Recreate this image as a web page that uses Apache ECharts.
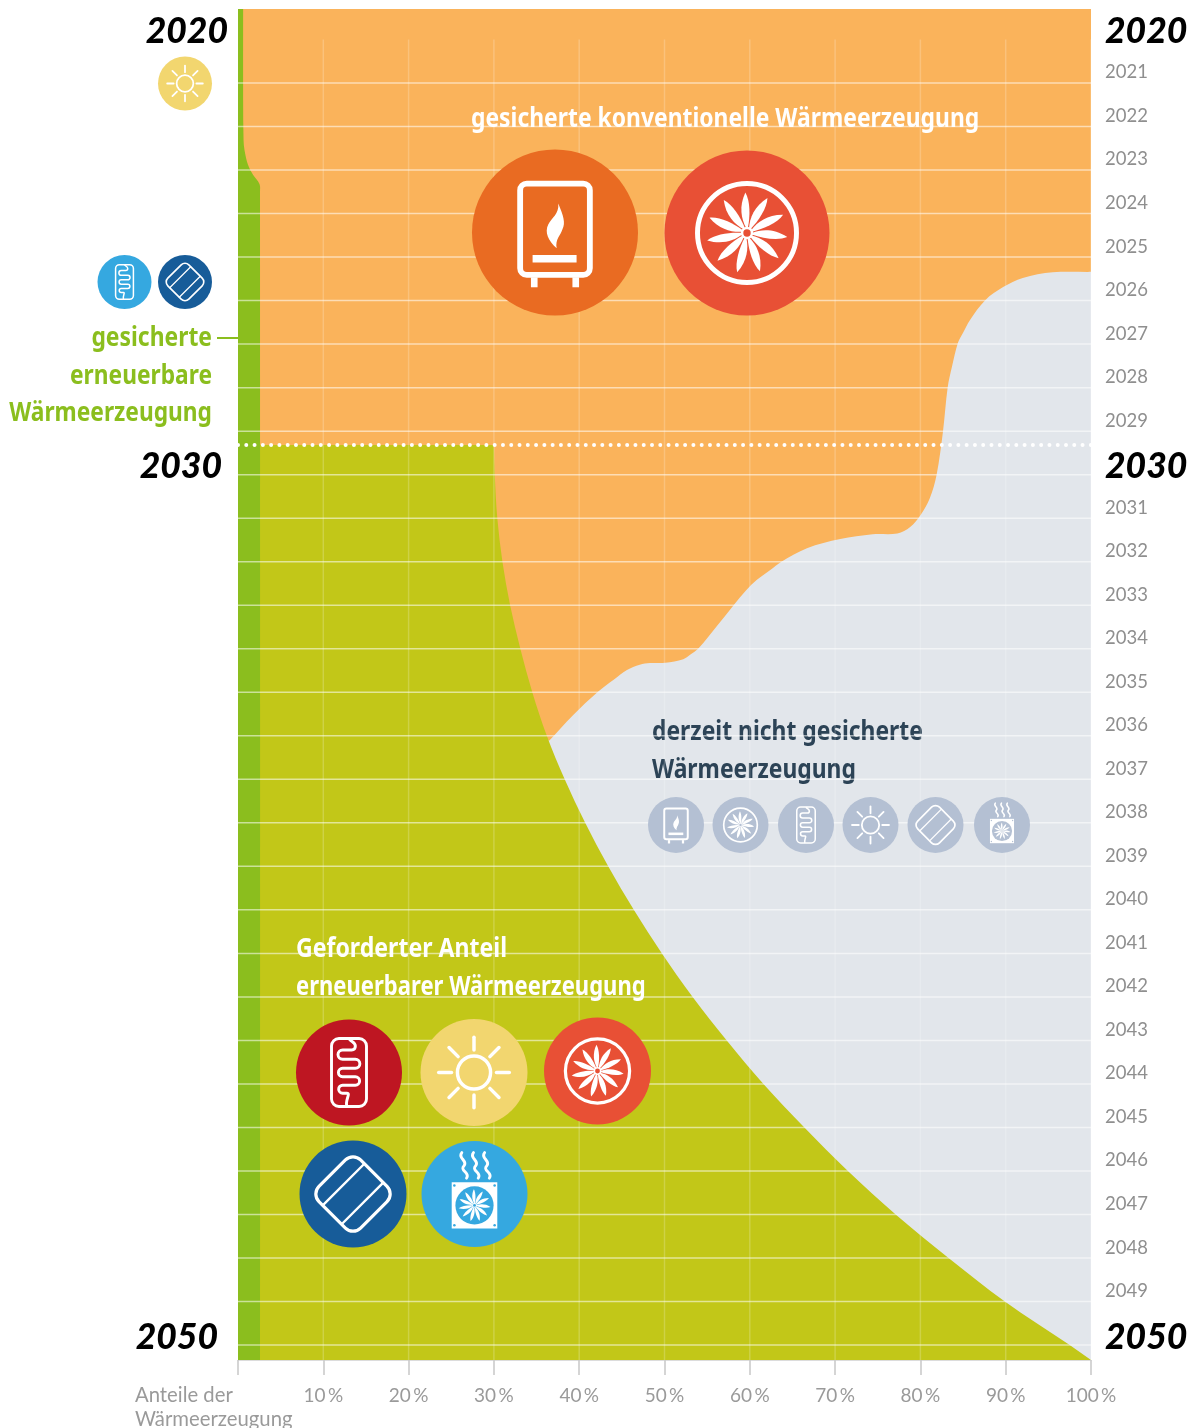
<!DOCTYPE html>
<html lang="de">
<head>
<meta charset="utf-8">
<title>Wärmeerzeugung 2020–2050</title>
<script src="https://cdn.jsdelivr.net/npm/echarts@6/dist/echarts.min.js"></script>
<style>
  html, body { margin: 0; padding: 0; background: #fff; }
  #chart { width: 1192px; height: 1428px; }
</style>
</head>
<body>
<div id="chart"></div>
<script>
// axis values
const YEAR_MIN = 2019.3
const YEAR_MAX = 2050.343
const SHARE_TICKS = [10, 20, 30, 40, 50, 60, 70, 80, 90, 100]
const GRID_YEARS = [2021, 2022, 2023, 2024, 2025, 2026, 2027, 2028, 2029, 2030, 2031, 2032, 2033, 2034, 2035, 2036, 2037, 2038, 2039, 2040, 2041, 2042, 2043, 2044, 2045, 2046, 2047, 2048, 2049, 2050]
const BIG_YEARS = [2020, 2030, 2050]
const MARKER_YEAR = 2029.32

// gesicherte erneuerbare: right edge of the dark green band
const SECURED_SHARE = [0.6, 0.6, 0.65, 0.76, 1.17, 1.76, 2.52, 2.58, 2.58]
const SECURED_YEAR = [2019.3, 2021.39, 2022.31, 2022.54, 2022.88, 2023.11, 2023.32, 2023.5, 2050.343]

// geforderter Anteil erneuerbarer: right edge of the yellow green area
const REQUIRED_SHARE = [30.0, 30.1, 30.4, 31.0, 31.9, 33.1, 34.5, 36.2, 38.3, 40.7, 43.4, 46.4, 49.7, 53.3, 57.3, 61.6, 66.4, 71.5, 77.1, 83.3, 89.9, 97.5, 100]
const REQUIRED_YEAR = [2029.32, 2030, 2031, 2032, 2033, 2034, 2035, 2036, 2037, 2038, 2039, 2040, 2041, 2042, 2043, 2044, 2045, 2046, 2047, 2048, 2049, 2050, 2050.343]

// gesicherte konventionelle: edge between orange and grey
const CONVENTIONAL_SHARE = [100, 95.5, 92.0, 89.7, 87.6, 85.8, 85.0, 84.4, 83.7, 83.2, 82.65, 81.9, 81.1, 80.0, 78.8, 77.3, 74.4, 70.6, 66.7, 63.7, 62.4, 60.8, 59.6, 58.1, 56.1, 54.0, 53.0, 52.2, 50.1, 48.3, 47.1, 45.6, 44.0, 42.2, 39.3, 36.5]
const CONVENTIONAL_YEAR = [2025.34, 2025.35, 2025.48, 2025.69, 2025.99, 2026.45, 2026.74, 2026.97, 2027.52, 2027.99, 2029, 2030, 2030.54, 2030.93, 2031.2, 2031.35, 2031.37, 2031.48, 2031.69, 2032, 2032.19, 2032.42, 2032.65, 2033, 2033.49, 2033.99, 2034.14, 2034.24, 2034.32, 2034.33, 2034.37, 2034.49, 2034.72, 2034.99, 2035.52, 2036.11]

const COLORS = {
  grey: '#e2e6eb', orange: '#fab35b', required: '#c2c718', secured: '#8bbe1e',
  sun: '#f2d66f', sky: '#35a8e0', navy: '#175c99', boiler: '#e96b22', fan: '#e85035', wine: '#be1622', pale: '#b4c0d3',
}
const Z_AREA = 1, Z_TEXT = 2, Z_LINES = 3, Z_ICON = 5
const FONT = '"Noto Sans", sans-serif'
const NUM_FONT = 'Lato, sans-serif'

// curve through the points, handles scale with each segment so uneven spacing does not overshoot
function curveThrough(pts) {
  const tangent = i => {
    const a = pts[Math.max(i - 1, 0)], b = pts[Math.min(i + 1, pts.length - 1)]
    const dx = b[0] - a[0], dy = b[1] - a[1], len = Math.hypot(dx, dy) || 1
    return [dx / len, dy / len]
  }
  let d = ''
  for (let i = 0; i < pts.length - 1; i++) {
    const p1 = pts[i], p2 = pts[i + 1], t1 = tangent(i), t2 = tangent(i + 1)
    const h = Math.hypot(p2[0] - p1[0], p2[1] - p1[1]) / 3
    d += `C${p1[0] + t1[0] * h},${p1[1] + t1[1] * h} ${p2[0] - t2[0] * h},${p2[1] - t2[1] * h} ${p2[0]},${p2[1]} `
  }
  return d
}

function areaSeries(name, color, build) {
  return {
    type: 'custom', name, z: Z_AREA, silent: true, data: [[0, YEAR_MIN]], clip: false,
    renderItem: (params, api) => ({
      type: 'path',
      shape: { pathData: build(p => api.coord(p)) },
      style: { fill: color },
    }),
  }
}

function zipped(xs, ys) { return xs.map((x, i) => [x, ys[i]]) }
function pt(p) { return `${p[0]},${p[1]} ` }

// ---------- icons, drawn in a 100 unit radius box ----------
const PETAL = 'M-1,-6 C-7,-17 -10,-32 -2,-49 C4,-39 4,-20 1,-6 Z'
const FLAME = 'M4,-35 C10,-20 13,-12 9,-4 C7,3 0,8 2,19 C-8,10 -13,0 -8,-10 C-4,-18 5,-22 4,-35 Z'
const COIL = 'M0,-64 C3,-58 12,-58 12,-50 Q12,-42.5 5,-42.5 H-12 A8.5,8.5 0 0 0 -12,-25 H12 A8.5,8.5 0 0 1 12,-8 H-12 A8,8 0 0 0 -12,8 H12 A8,8 0 0 1 12,24 H-12 A7.5,7.5 0 0 0 -12,39 H-4 C4,39 -8,52 -4,64'
const WAVE = 'M-4,-78 C-13,-68 9,-62 0,-53 C-9,-44 13,-40 5,-30'
const line = (w) => ({ fill: 'none', stroke: '#fff', lineWidth: w, lineCap: 'round' })

function fanParts(hub, ring) {
  const parts = []
  for (let i = 0; i < 11; i++) {
    parts.push({ type: 'path', rotation: i * Math.PI * 2 / 11, shape: { pathData: PETAL }, style: { fill: '#fff' } })
  }
  parts.push({ type: 'circle', shape: { cx: 0, cy: 0, r: 7.5 }, style: { fill: '#fff' } })
  parts.push({ type: 'circle', shape: { cx: 0, cy: 0, r: 4.5 }, style: { fill: hub } })
  if (ring) parts.push({ type: 'circle', shape: { cx: 0, cy: 0, r: 60 }, style: { fill: 'none', stroke: '#fff', lineWidth: 6 } })
  return parts
}

function glyph(kind, color) {
  if (kind === 'sun') {
    const rays = []
    for (let i = 0; i < 8; i++) {
      rays.push({ type: 'line', rotation: i * Math.PI / 4, shape: { x1: 0, y1: -42, x2: 0, y2: -66 }, style: line(6.5) })
    }
    return rays.concat({ type: 'circle', shape: { cx: 0, cy: 0, r: 31 }, style: line(6.5) })
  }
  if (kind === 'boiler') {
    return [
      { type: 'rect', shape: { x: -42, y: -59, width: 84, height: 110, r: 8 }, style: { fill: 'none', stroke: '#fff', lineWidth: 7 } },
      { type: 'rect', shape: { x: -29, y: 54, width: 8, height: 12 }, style: { fill: '#fff' } },
      { type: 'rect', shape: { x: 21, y: 54, width: 8, height: 12 }, style: { fill: '#fff' } },
      { type: 'rect', shape: { x: -27, y: 27, width: 53, height: 9 }, style: { fill: '#fff' } },
      { type: 'path', shape: { pathData: FLAME }, style: { fill: '#fff' } },
    ]
  }
  if (kind === 'fan') return fanParts(color, true)
  if (kind === 'coil') {
    return [
      { type: 'rect', shape: { x: -33, y: -64, width: 66, height: 128, r: 14 }, style: { fill: 'none', stroke: '#fff', lineWidth: 5.5 } },
      { type: 'path', shape: { pathData: COIL }, style: { fill: 'none', stroke: '#fff', lineWidth: 5.5 } },
    ]
  }
  if (kind === 'panel') {
    return [{
      type: 'group', rotation: Math.PI / 4,
      children: [
        { type: 'rect', shape: { x: -55, y: -55, width: 110, height: 110, r: 20 }, style: { fill: 'none', stroke: '#fff', lineWidth: 6 } },
        { type: 'line', shape: { x1: -55, y1: -25, x2: 55, y2: -25 }, style: line(4.5) },
        { type: 'line', shape: { x1: -55, y1: 25, x2: 55, y2: 25 }, style: line(4.5) },
      ],
    }]
  }
  // heat pump
  const corners = [[-38, -16], [38, -16], [-38, 59], [38, 59]]
  const waveStyle = { fill: 'none', stroke: '#fff', lineWidth: 5.5, lineCap: 'round' }
  return [
    { type: 'path', x: -20, shape: { pathData: WAVE }, style: waveStyle },
    { type: 'path', x: 2, shape: { pathData: WAVE }, style: waveStyle },
    { type: 'path', x: 23, shape: { pathData: WAVE }, style: waveStyle },
    { type: 'rect', shape: { x: -43, y: -22, width: 86, height: 87 }, style: { fill: '#fff' } },
    { type: 'circle', shape: { cx: 0, cy: 21.5, r: 36 }, style: { fill: color } },
    { type: 'group', x: 0, y: 21.5, scaleX: 0.62, scaleY: 0.62, children: fanParts(color, false) },
  ].concat(corners.map(c => ({ type: 'circle', shape: { cx: c[0], cy: c[1], r: 2.4 }, style: { fill: color } })))
}

function icon(kind, cx, cy, r, color) {
  return {
    type: 'group', x: cx, y: cy, scaleX: r / 100, scaleY: r / 100,
    children: [{ type: 'circle', shape: { cx: 0, cy: 0, r: 100 }, style: { fill: color } }].concat(glyph(kind, color)),
  }
}

const ICONS = [
  ['sun', 185, 83.5, 27, COLORS.sun],
  ['coil', 124.5, 282, 27, COLORS.sky],
  ['panel', 185, 282, 27, COLORS.navy],
  ['boiler', 555, 232.5, 83, COLORS.boiler],
  ['fan', 747, 233, 82.5, COLORS.fan],
  ['boiler', 676, 825, 28, COLORS.pale],
  ['fan', 740.5, 825, 28, COLORS.pale],
  ['coil', 806, 825, 28, COLORS.pale],
  ['sun', 870.5, 825, 28, COLORS.pale],
  ['panel', 935.5, 825, 28, COLORS.pale],
  ['pump', 1002, 825, 28, COLORS.pale],
  ['coil', 349, 1072.5, 53, COLORS.wine],
  ['sun', 474, 1072.5, 53.5, COLORS.sun],
  ['fan', 597.5, 1071, 53.5, COLORS.fan],
  ['panel', 353, 1194, 53.5, COLORS.navy],
  ['pump', 474.5, 1194, 53, COLORS.sky],
]

function label(text, x, y, fill, opts) {
  const o = opts || {}
  return {
    type: 'text', x, y, z: o.z || Z_TEXT, scaleX: o.sx || 0.88, scaleY: 1, silent: true,
    style: {
      text, fill, font: o.font || `bold 26px ${FONT}`,
      align: o.align || 'left', verticalAlign: 'middle', textAlign: o.align || 'left', textVerticalAlign: 'middle',
    },
  }
}

const axisNameFont = `20.3px ${NUM_FONT}`
const graphics = [
  label('gesicherte konventionelle Wärmeerzeugung', 471, 120, '#fff'),
  label('Geforderter Anteil', 296, 950, '#fff', { sx: 0.888 }),
  label('erneuerbarer Wärmeerzeugung', 296, 988, '#fff', { sx: 0.848 }),
  label('derzeit nicht gesicherte', 652, 733, '#2c4356'),
  label('Wärmeerzeugung', 652, 771, '#2c4356'),
  label('gesicherte', 212, 339, COLORS.secured, { align: 'right', z: 6 }),
  label('erneuerbare', 212, 377, COLORS.secured, { align: 'right', z: 6, sx: 0.875 }),
  label('Wärmeerzeugung', 212, 414, COLORS.secured, { align: 'right', z: 6, sx: 0.875 }),
  label('Anteile der', 135, 1395, '#9a9a9a', { font: axisNameFont, sx: 1 }),
  label('Wärmeerzeugung', 135, 1419, '#9a9a9a', { font: axisNameFont, sx: 1 }),
  { type: 'line', z: 6, silent: true, shape: { x1: 217, y1: 338, x2: 238, y2: 338 }, style: { stroke: COLORS.secured, lineWidth: 2 } },
]

const series = [
  areaSeries('derzeit nicht gesichert', COLORS.grey, c => {
    const a = c([0, YEAR_MIN]), b = c([100, YEAR_MAX])
    return `M${pt(a)}L${b[0]},${a[1]} L${pt(b)}L${a[0]},${b[1]} Z`
  }),
  areaSeries('gesicherte konventionelle', COLORS.orange, c => {
    const edge = zipped(CONVENTIONAL_SHARE, CONVENTIONAL_YEAR).map(c)
    const tl = c([0, YEAR_MIN]), tr = c([100, YEAR_MIN]), end = edge[edge.length - 1]
    return `M${pt(tl)}L${pt(tr)}L${pt(edge[0])}${curveThrough(edge)}L${tl[0]},${end[1]} Z`
  }),
  areaSeries('geforderter Anteil', COLORS.required, c => {
    const edge = zipped(REQUIRED_SHARE, REQUIRED_YEAR).map(c)
    const bl = c([0, YEAR_MAX]), tl = c([0, REQUIRED_YEAR[0]])
    return `M${pt(tl)}L${pt(edge[0])}${curveThrough(edge)}L${pt(bl)}Z`
  }),
  areaSeries('gesicherte erneuerbare', COLORS.secured, c => {
    const edge = zipped(SECURED_SHARE, SECURED_YEAR).map(c)
    const tl = c([0, YEAR_MIN]), bl = c([0, YEAR_MAX])
    return `M${pt(tl)}L${pt(edge[0])}${curveThrough(edge)}L${pt(bl)}Z`
  }),
  {
    type: 'custom', name: 'Jahre', z: Z_LINES, silent: true,
    data: GRID_YEARS.map(y => [0, y]),
    renderItem: (params, api) => {
      const y = api.value(1), a = api.coord([0, y]), b = api.coord([100, y])
      return { type: 'line', shape: { x1: a[0], y1: a[1], x2: b[0], y2: b[1] }, style: { stroke: 'rgba(255,255,255,0.55)', lineWidth: 1.5 } }
    },
  },
  {
    type: 'custom', name: 'Anteile', z: Z_LINES, silent: true,
    data: SHARE_TICKS.map(s => [s, 2020]),
    renderItem: (params, api) => {
      const s = api.value(0), a = api.coord([s, 2020]), b = api.coord([s, YEAR_MAX])
      return { type: 'line', shape: { x1: a[0], y1: a[1], x2: b[0], y2: b[1] }, style: { stroke: 'rgba(255,255,255,0.2)', lineWidth: 1.5 } }
    },
  },
  {
    type: 'line', name: '2030', z: Z_LINES, silent: true, symbol: 'none',
    data: [[0, MARKER_YEAR], [100, MARKER_YEAR]],
    lineStyle: { color: '#fff', width: 4, type: [0, 8.28], cap: 'round' },
  },
  {
    type: 'custom', name: 'Icons', z: Z_ICON, silent: true,
    data: ICONS.map(() => [0, YEAR_MIN]),
    renderItem: (params) => icon(...ICONS[params.dataIndex]),
  },
]

const bigRich = { fontFamily: NUM_FONT, fontWeight: 900, fontStyle: 'italic', fontSize: 35.5, color: '#000' }

const option = {
  animation: false,
  backgroundColor: '#fff',
  grid: { left: 238, right: 101, top: 9, bottom: 68 },
  xAxis: {
    type: 'value', min: 0, max: 100, interval: 10,
    axisLine: { lineStyle: { color: '#dcdcdc' } },
    axisTick: { length: 15, lineStyle: { color: '#c8c8c8', width: 1.5 } },
    axisLabel: {
      margin: 26, color: '#9a9a9a', fontFamily: NUM_FONT, fontSize: 19,
      formatter: v => (v === 0 ? '' : v + '\u2009%'),
    },
    splitLine: { show: false },
  },
  yAxis: [
    {
      type: 'value', position: 'right', inverse: true, min: YEAR_MIN, max: YEAR_MAX,
      axisLine: { show: false },
      axisTick: { show: false, customValues: GRID_YEARS.concat(2020) },
      splitLine: { show: false },
      axisLabel: {
        customValues: GRID_YEARS.concat(2020), margin: 14, align: 'left',
        formatter: v => (BIG_YEARS.includes(v) ? `{big|${v}}` : `{small|${v}}`),
        rich: {
          big: { ...bigRich, padding: [0, 0, 16, 0] },
          small: { fontFamily: NUM_FONT, fontSize: 18.5, color: '#8f8f8f', padding: [0, 0, 21, 0] },
        },
      },
    },
    {
      type: 'value', position: 'left', inverse: true, min: YEAR_MIN, max: YEAR_MAX,
      axisLine: { show: false },
      axisTick: { show: false, customValues: BIG_YEARS },
      splitLine: { show: false },
      axisLabel: {
        customValues: BIG_YEARS, margin: 10, align: 'right',
        formatter: v => `{y${v}|${v}}`,
        rich: {
          y2020: { ...bigRich, padding: [0, 0, 16, 0] },
          y2030: { ...bigRich, padding: [0, 6, 16, 0] },
          y2050: { ...bigRich, padding: [0, 10, 16, 0] },
        },
      },
    },
  ],
  graphic: { elements: graphics },
  series,
}

const chart = echarts.init(document.getElementById('chart'), null, { renderer: 'canvas' })
chart.setOption(option)
</script>
</body>
</html>
